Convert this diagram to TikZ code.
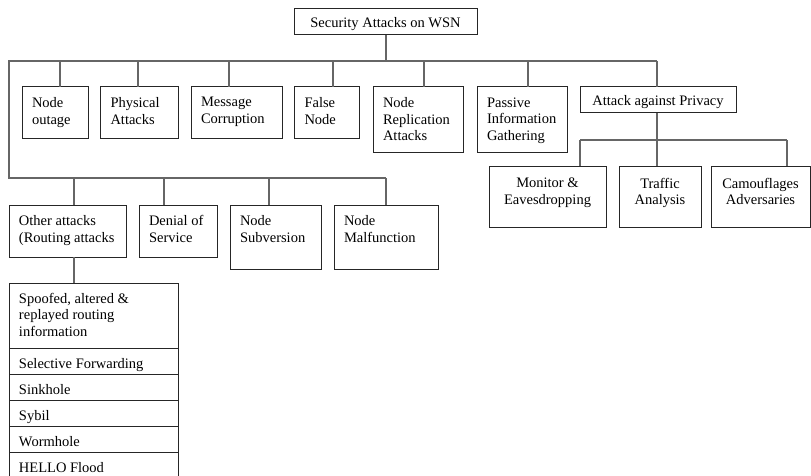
\documentclass[tikz,border=0pt]{standalone}
\usepackage{fontspec}
\setmainfont{Liberation Serif}
\usetikzlibrary{calc}
\tikzset{
  box/.style={draw=black!85, line width=1pt, inner sep=0pt, outer sep=0pt, rectangle},
  conn/.style={draw=black!60, line width=1.3pt},
  txt/.style={inner sep=0pt, outer sep=0pt, align=left, anchor=north west, font=\fontsize{14.5}{16.5}\selectfont},
  ctxt/.style={inner sep=0pt, outer sep=0pt, align=center, anchor=north, font=\fontsize{14.5}{16.5}\selectfont},
}
\newcommand\mkbox[5]{\node[box, minimum width={#4-#2}, minimum height={#5-#3}] (#1) at ({(#2+#4)/2},{(#3+#5)/2}) {};}
\begin{document}
\begin{tikzpicture}[x=1pt,y=-1pt]
\useasboundingbox[fill=white] (0,0) rectangle (811,476);
% boxes
\mkbox{root}{294}{9}{477}{35}
\mkbox{outage}{22}{87}{88}{139}
\mkbox{phys}{100}{87}{178}{139}
\mkbox{msg}{191}{87}{282}{139}
\mkbox{false}{294}{87}{359}{139}
\mkbox{repl}{373}{87}{463}{153}
\mkbox{passive}{477}{87}{567}{153}
\mkbox{privacy}{580}{87}{736}{113}
\mkbox{monitor}{489}{166}{606}{227}
\mkbox{traffic}{619}{166}{701}{227}
\mkbox{camo}{711}{166}{810}{227}
\mkbox{other}{9}{205}{126}{257}
\mkbox{dos}{139}{205}{217}{257}
\mkbox{subv}{230}{205}{321}{269}
\mkbox{malf}{334}{205}{438}{269}
\mkbox{r1}{9}{283}{178}{348}
\mkbox{r2}{9}{348}{178}{374}
\mkbox{r3}{9}{374}{178}{400}
\mkbox{r4}{9}{400}{178}{426}
\mkbox{r5}{9}{426}{178}{452}
\mkbox{r6}{9}{452}{178}{480}
% texts
\node[ctxt] (troot) at ($(root.north)+(0,8)$) {Security Attacks on WSN};
\node[txt] (toutage) at ($(outage.north west)+(10,10.5)$) {Node\\outage};
\node[txt] (tphys) at ($(phys.north west)+(10.5,10.5)$) {Physical\\Attacks};
\node[txt] (tmsg) at ($(msg.north west)+(10,10.5)$) {Message\\Corruption};
\node[txt] (tfalse) at ($(false.north west)+(10.5,10.5)$) {False\\Node};
\node[txt] (trepl) at ($(repl.north west)+(10,10.5)$) {Node\\Replication\\Attacks};
\node[txt] (tpassive) at ($(passive.north west)+(10,10.5)$) {Passive\\Information\\Gathering};
\node[ctxt] (tprivacy) at ($(privacy.north)+(0,8)$) {Attack against Privacy};
\node[ctxt] (tmonitor) at ($(monitor.north)+(0,12)$) {Monitor \&\\Eavesdropping};
\node[ctxt] (ttraffic) at ($(traffic.north)+(0,12)$) {Traffic\\Analysis};
\node[ctxt] (tcamo) at ($(camo.north)+(0,12)$) {Camouflages\\Adversaries};
\node[txt] (tother) at ($(other.north west)+(10,10.5)$) {Other attacks\\(Routing attacks};
\node[txt] (tdos) at ($(dos.north west)+(10,10.5)$) {Denial of\\Service};
\node[txt] (tsubv) at ($(subv.north west)+(10,10.5)$) {Node\\Subversion};
\node[txt] (tmalf) at ($(malf.north west)+(10,10.5)$) {Node\\Malfunction};
\node[txt] (tr1) at ($(r1.north west)+(10,10)$) {Spoofed, altered \&\\replayed routing\\information};
\node[txt] (tr2) at ($(r2.north west)+(10,10)$) {Selective Forwarding};
\node[txt] (tr3) at ($(r3.north west)+(10,10)$) {Sinkhole};
\node[txt] (tr4) at ($(r4.north west)+(10,10)$) {Sybil};
\node[txt] (tr5) at ($(r5.north west)+(10,10)$) {Wormhole};
\node[txt] (tr6) at ($(r6.north west)+(10,10)$) {HELLO Flood};
% buses
\coordinate (busL) at (9,61);
\coordinate (busR) at (657,61);
\coordinate (bus2L) at (9,178);
\coordinate (bus2R) at (386,178);
\coordinate (pbusL) at (580,140);
\coordinate (pbusR) at (787,140);
\draw[conn] ([xshift=0.5]root.south) -- ([xshift=0.5]root.south |- busL);
\draw[conn] (busR) -- (busL) -- (bus2L) -- (bus2R);
\draw[conn] ([xshift=5]outage.north) -- ([xshift=5]outage.north |- busL);
\draw[conn] ([xshift=-1]phys.north) -- ([xshift=-1]phys.north |- busL);
\draw[conn] ([xshift=-7.5]msg.north) -- ([xshift=-7.5]msg.north |- busL);
\draw[conn] ([xshift=6.5]false.north) -- ([xshift=6.5]false.north |- busL);
\draw[conn] ([xshift=6]repl.north) -- ([xshift=6]repl.north |- busL);
\draw[conn] ([xshift=6]passive.north) -- ([xshift=6]passive.north |- busL);
\draw[conn] ([xshift=-1]privacy.north) -- ([xshift=-1]privacy.north |- busL);
\draw[conn] ([xshift=-1]privacy.south) -- ([xshift=-1]privacy.south |- pbusL);
\draw[conn] (pbusL) -- (pbusR);
\draw[conn] ([xshift=32.5]monitor.north) -- ([xshift=32.5]monitor.north |- pbusL);
\draw[conn] ([xshift=-3]traffic.north) -- ([xshift=-3]traffic.north |- pbusL);
\draw[conn] ([xshift=26.5]camo.north) -- ([xshift=26.5]camo.north |- pbusL);
\draw[conn] ([xshift=6.5]other.north) -- ([xshift=6.5]other.north |- bus2L);
\draw[conn] ([xshift=-14]dos.north) -- ([xshift=-14]dos.north |- bus2L);
\draw[conn] ([xshift=-6.5]subv.north) -- ([xshift=-6.5]subv.north |- bus2L);
\draw[conn] (malf.north) -- (malf.north |- bus2L);
\draw[conn] ([xshift=6.5]other.south) -- ([xshift=6.5]other.south |- r1.north);
\end{tikzpicture}
\end{document}
